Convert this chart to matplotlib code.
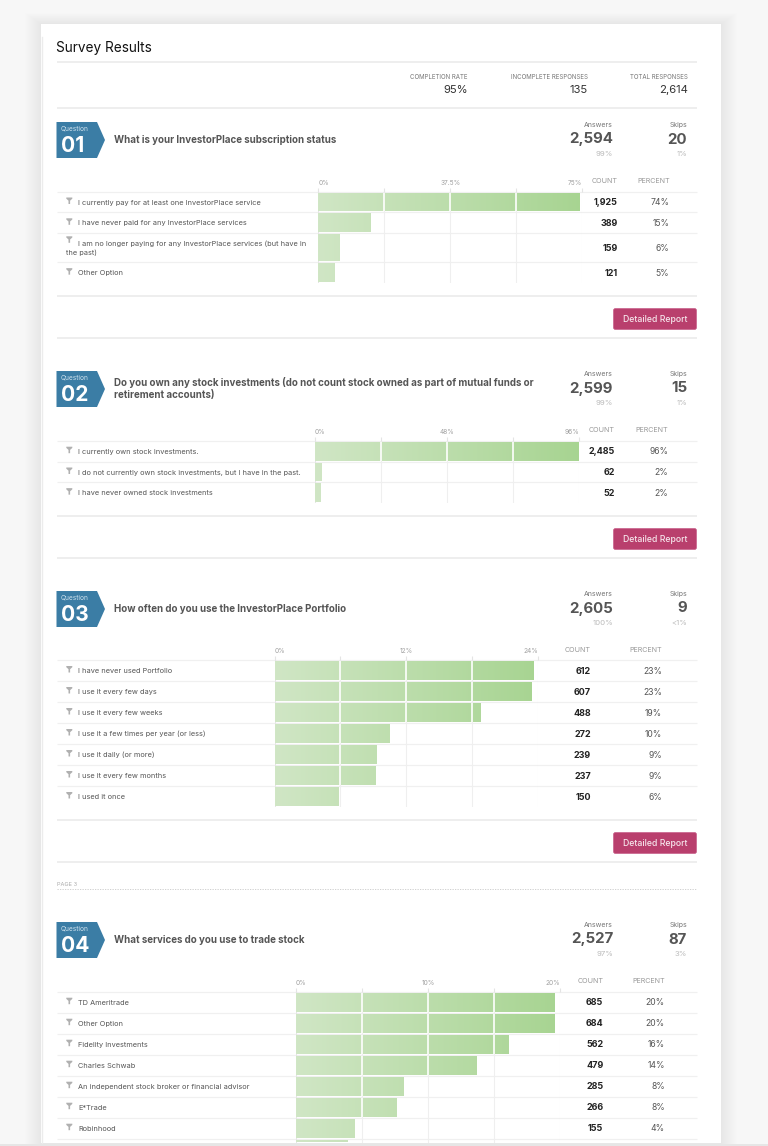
import numpy as np
import matplotlib
matplotlib.use("Agg")
import matplotlib.pyplot as plt
from matplotlib.patches import Rectangle, Polygon, FancyBboxPatch
from matplotlib.colors import LinearSegmentedColormap

W, H = 768, 1146
FONT = "Inter"
plt.rcParams["font.family"] = [FONT, "DejaVu Sans"]

# ---------- data ----------
summary_labels = ["COMPLETION RATE", "INCOMPLETE RESPONSES", "TOTAL RESPONSES"]
summary_values = ["95%", "135", "2,614"]

q1_title = ["What is your InvestorPlace subscription status"]
q1_labels = ["I currently pay for at least one InvestorPlace service",
             "I have never paid for any InvestorPlace services",
             "I am no longer paying for any InvestorPlace services (but have in\nthe past)",
             "Other Option"]
q1_counts = ["1,925", "389", "159", "121"]
q1_percent = ["74%", "15%", "6%", "5%"]
q1_bars = [74.2, 15.0, 6.1, 4.7]
q1_ticks = [0, 18.75, 37.5, 56.25, 75]
q1_ticklabels = ["0%", "", "37.5%", "", "75%"]
q1_stats = ["2,594", "99%", "20", "1%"]

q2_title = ["Do you own any stock investments (do not count stock owned as part of mutual funds or",
            "retirement accounts)"]
q2_labels = ["I currently own stock investments.",
             "I do not currently own stock investments, but I have in the past.",
             "I have never owned stock investments"]
q2_counts = ["2,485", "62", "52"]
q2_percent = ["96%", "2%", "2%"]
q2_bars = [95.6, 2.4, 2.0]
q2_ticks = [0, 24, 48, 72, 96]
q2_ticklabels = ["0%", "", "48%", "", "96%"]
q2_stats = ["2,599", "99%", "15", "1%"]

q3_title = ["How often do you use the InvestorPlace Portfolio"]
q3_labels = ["I have never used Portfolio", "I use it every few days", "I use it every few weeks",
             "I use it a few times per year (or less)", "I use it daily (or more)",
             "I use it every few months", "I used it once"]
q3_counts = ["612", "607", "488", "272", "239", "237", "150"]
q3_percent = ["23%", "23%", "19%", "10%", "9%", "9%", "6%"]
q3_bars = [23.5, 23.3, 18.7, 10.4, 9.2, 9.1, 5.8]
q3_ticks = [0, 6, 12, 18, 24]
q3_ticklabels = ["0%", "", "12%", "", "24%"]
q3_stats = ["2,605", "100%", "9", "<1%"]

q4_title = ["What services do you use to trade stock"]
q4_labels = ["TD Ameritrade", "Other Option", "Fidelity Investments", "Charles Schwab",
             "An independent stock broker or financial advisor", "E*Trade", "Robinhood"]
q4_counts = ["685", "684", "562", "479", "285", "266", "155"]
q4_percent = ["20%", "20%", "16%", "14%", "8%", "8%", "4%"]
q4_bars = [19.6, 19.55, 16.1, 13.7, 8.15, 7.6, 4.4, 3.9]
q4_ticks = [0, 5, 10, 15, 20]
q4_ticklabels = ["0%", "", "10%", "", "20%"]
q4_stats = ["2,527", "97%", "87", "3%"]

# ---------- layout (pixels) ----------
questions = [
    dict(num="01", title=q1_title, labels=q1_labels, counts=q1_counts, pct=q1_percent, bars=q1_bars,
         ticks=q1_ticks, ticklabels=q1_ticklabels, stats=q1_stats, top=122, x0=318.3, x1=582.3,
         rows=[191.7, 212.3, 233.3, 262.3, 283], cnt_r=617.7, pct_r=669.5, head_y=181,
         end=296, btn=308, sep=338),
    dict(num="02", title=q2_title, labels=q2_labels, counts=q2_counts, pct=q2_percent, bars=q2_bars,
         ticks=q2_ticks, ticklabels=q2_ticklabels, stats=q2_stats, top=371, x0=315, x1=579.3,
         rows=[440.7, 461.7, 482.3, 503], cnt_r=615, pct_r=668.3, head_y=430,
         end=516, btn=528, sep=558),
    dict(num="03", title=q3_title, labels=q3_labels, counts=q3_counts, pct=q3_percent, bars=q3_bars,
         ticks=q3_ticks, ticklabels=q3_ticklabels, stats=q3_stats, top=591, x0=274.5, x1=538.3,
         rows=[660 + 21 * i for i in range(8)], cnt_r=591, pct_r=662, head_y=650,
         end=820, btn=832, sep=862),
    dict(num="04", title=q4_title, labels=q4_labels, counts=q4_counts, pct=q4_percent, bars=q4_bars,
         ticks=q4_ticks, ticklabels=q4_ticklabels, stats=q4_stats, top=922, x0=296, x1=560,
         rows=[991.7 + 21 * i for i in range(8)] + [1143], cnt_r=603.3, pct_r=665, head_y=981,
         end=None, btn=None, sep=None),
]

CARD_L, CARD_R, CARD_T, CARD_B = 41, 721, 24, 1143
L, R = 56.5, 697
LINE = "#e9e9e9"
ROW = "#f0f0f0"

fig = plt.figure(figsize=(W / 100, H / 100), dpi=100, facecolor="#f7f7f7")
bg = fig.add_axes([0, 0, 1, 1], zorder=0)
bg.set_xlim(0, W)
bg.set_ylim(H, 0)
bg.axis("off")


def T(x, y, s, px, color="#555555", ha="left", weight="normal", va="center", ax=bg):
    return ax.text(x, y + 0.8, s, fontsize=px * 0.72, color=color, ha=ha, va=va, fontweight=weight)


def hline(y, c=LINE, lw=1.5, x0=L, x1=R, **kw):
    bg.plot([x0, x1], [y, y], color=c, lw=lw * 0.72, solid_capstyle="butt", **kw)


# shadow + card
for i in range(16, 0, -1):
    bg.add_patch(Rectangle((CARD_L - i, CARD_T - i * 0.7), CARD_R - CARD_L + 2 * i, H,
                           fc="black", ec="none", alpha=0.0055))
bg.add_patch(Rectangle((CARD_L, CARD_T), CARD_R - CARD_L, CARD_B - CARD_T, fc="white", ec="none"))
bg.add_patch(Rectangle((0, CARD_B + 0.5), W, H - CARD_B, fc="#e6e6e6", ec="none", zorder=5))
bg.plot([41.5, 41.5], [37, CARD_B], color="#ececec", lw=1)

# page header
T(56.5, 46.8, "Survey Results", 13.6, color="#111111")
hline(62)
hline(107.7)
for r, lab, val in zip([468, 588, 687.5], summary_labels, summary_values):
    T(r, 76.5, lab, 6.1, color="#777777", ha="right")
    T(r, 89.2, val, 11.3, color="#333333", ha="right")


def funnel(x, y):
    bg.add_patch(Polygon([(x - 3, y - 3.5), (x + 3, y - 3.5), (x + 3, y - 2.3), (x + 0.8, y - 0.3),
                          (x + 0.8, y + 3), (x - 0.8, y + 3), (x - 0.8, y - 0.3), (x - 3, y - 2.3)],
                         fc="#b0b0b0", ec="none"))


cmap = LinearSegmentedColormap.from_list("g", ["#d0e6c5", "#a7d491"])

for q in questions:
    top = q["top"]
    # badge
    bg.add_patch(Polygon([(56.5, top), (97, top), (105, top + 18), (97, top + 36), (56.5, top + 36)],
                         fc="#3b7da5", ec="none"))
    T(61, top + 5.8, "Question", 6.6, color="#cfe2ee")
    T(60.5, top + 23.5, q["num"], 21, color="white", weight="bold")
    # title
    if len(q["title"]) == 1:
        T(114.5, top + 17.3, q["title"][0], 9.75, color="#555555", weight="bold")
    else:
        T(114.5, top + 10.3, q["title"][0], 9.75, color="#555555", weight="bold")
        T(114.5, top + 23.3, q["title"][1], 9.75, color="#555555", weight="bold")
    # answers / skips
    a, ap, s, sp = q["stats"]
    T(613, top + 2.5, "Answers", 7, color="#777777", ha="right")
    T(613, top + 16.7, a, 15, color="#555555", ha="right", weight="bold")
    T(613, top + 31.3, ap, 7.8, color="#bbbbbb", ha="right")
    T(687, top + 2.5, "Skips", 7, color="#777777", ha="right")
    T(687, top + 16.7, s, 15, color="#555555", ha="right", weight="bold")
    T(687, top + 31.3, sp, 7.8, color="#bbbbbb", ha="right")
    # headers
    T(q["cnt_r"], q["head_y"] - 0.6, "COUNT", 7.2, color="#999999", ha="right")
    T(q["pct_r"], q["head_y"] - 0.6, "PERCENT", 7.2, color="#999999", ha="right")

    rows = q["rows"]
    for y in rows[:-1]:
        hline(y, c=ROW, lw=1.2)
    for i, lab in enumerate(q["labels"]):
        c = (rows[i] + rows[i + 1]) / 2
        if "\n" in lab:
            first, second = lab.split("\n")
            funnel(69.3, c - 8)
            T(78.3, c - 5, first, 7.35, color="#555555")
            T(66, c + 4.3, second, 7.35, color="#555555")
        else:
            funnel(69.3, c - 1)
            T(78.3, c - 0.2, lab, 7.35, color="#555555")
        T(q["cnt_r"], c - 0.2, q["counts"][i], 9, color="#222222", ha="right", weight="bold")
        T(q["pct_r"], c - 0.2, q["pct"][i], 8.6, color="#555555", ha="right")
    if q["end"] is not None:
        hline(q["end"])
        hline(q["sep"])
        b = q["btn"]
        bg.add_patch(FancyBboxPatch((613.5, b + 0.5), 83, 21, boxstyle="round,pad=0,rounding_size=2",
                                    fc="#b93f6d", ec="#c7608a", lw=0.5))
        T(655, b + 10.2, "Detailed Report", 8.7, color="#f6e6ec", ha="center", weight="medium")

    # bars in their own axes
    y_top, y_bot = rows[0], rows[-1]
    ax = fig.add_axes([q["x0"] / W, 1 - y_bot / H, (q["x1"] - q["x0"]) / W, (y_bot - y_top) / H], zorder=2)
    ax.patch.set_alpha(0)
    xmax = q["ticks"][-1]
    ax.set_xlim(0, xmax)
    ax.set_ylim(y_bot, y_top)
    for sp_ in ax.spines.values():
        sp_.set_visible(False)
    ax.set_yticks([])
    ax.xaxis.tick_top()
    ax.set_xticks(q["ticks"])
    ax.set_xticklabels(q["ticklabels"], fontsize=6.6 * 0.72, color="#a0a0a0")
    ticklabels = ax.get_xticklabels()
    ticklabels[0].set_ha("left")
    ticklabels[-1].set_ha("right")
    ax.tick_params(axis="x", length=3, width=0.8, color="#e4e4e4", pad=1.2)
    ax.grid(axis="x", color="#efefef", lw=0.8)
    ax.set_axisbelow(True)
    centers = [(rows[i] + rows[i + 1]) / 2 for i in range(len(q["bars"]))]
    heights = [rows[i + 1] - rows[i] - 2.2 for i in range(len(q["bars"]))]
    bars = ax.barh(centers, q["bars"], height=heights, color="#c0dfb0", edgecolor="none", zorder=2)
    grad = np.linspace(0, 1, 256).reshape(1, -1)
    for i, patch in enumerate(bars):
        im = ax.imshow(grad, extent=(0, xmax, y_bot, y_top), aspect="auto", cmap=cmap, zorder=3, vmin=0, vmax=1)
        im.set_clip_path(patch)
        for t in q["ticks"][1:-1]:
            if q["bars"][i] > t:
                ax.vlines(t, centers[i] - heights[i] / 2, centers[i] + heights[i] / 2,
                          color="white", lw=1.2, zorder=4)
    ax.vlines(0, y_top, y_bot, color="#e4e4e4", lw=1.2, zorder=1)
    ax.set_xlim(0, xmax)
    ax.set_ylim(y_bot, y_top)

# page marker
T(57, 883.7, "PAGE 3", 5.6, color="#aaaaaa")
bg.plot([L, R], [889, 889], color="#c9c9c9", lw=0.6, ls=(0, (1.5, 1.5)))

fig.savefig("out.png", dpi=100, facecolor=fig.get_facecolor())
